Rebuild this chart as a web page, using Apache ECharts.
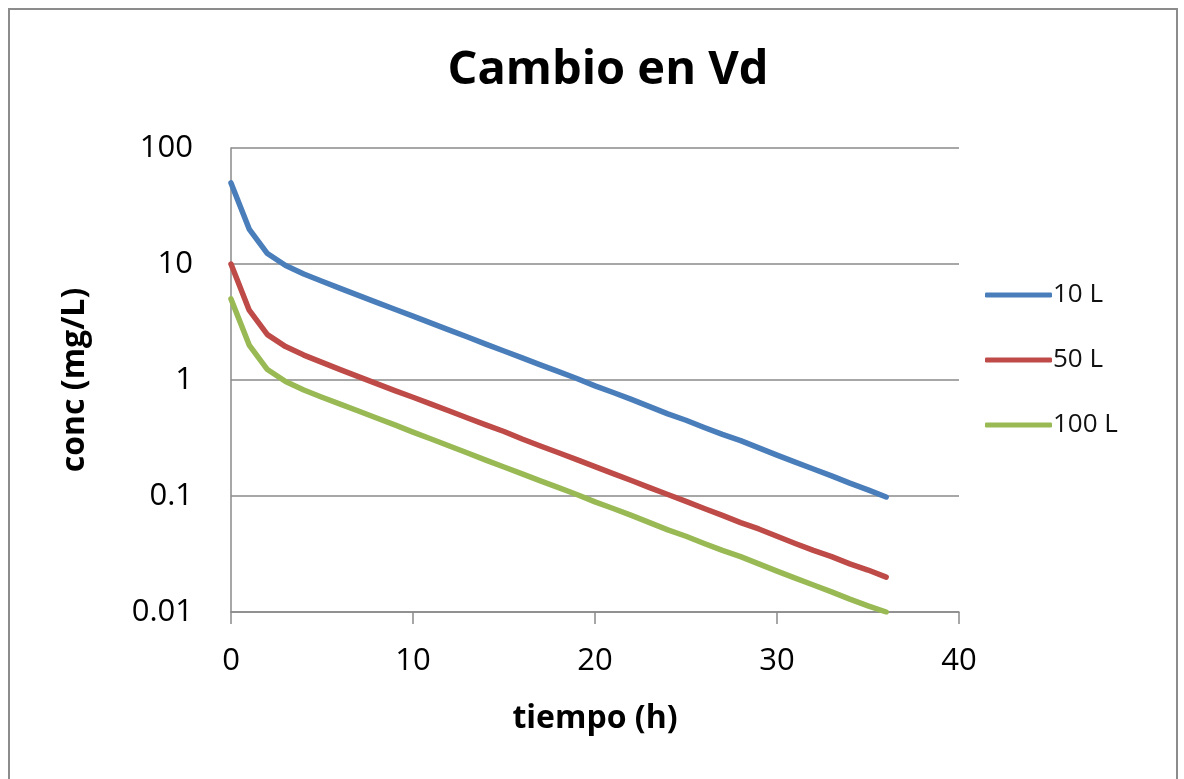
<!DOCTYPE html>
<html>
<head>
<meta charset="utf-8">
<script src="https://cdn.jsdelivr.net/npm/echarts@6/dist/echarts.min.js"></script>
<style>
  html, body { margin: 0; padding: 0; background: #fff; }
  #chart { width: 1184px; height: 779px; }
  #frame {
    position: absolute; left: 8px; top: 8px; width: 1166px; height: 820px;
    border: 2px solid #8c8c8c; pointer-events: none;
  }
</style>
</head>
<body>
<div id="chart"></div>
<div id="frame"></div>
<script>
// Time after dose, hours
const tiempo = [0,1,2,3,4,5,6,7,8,9,10,11,12,13,14,15,16,17,18,19,20,21,22,23,24,25,26,27,28,29,30,31,32,33,34,35,36];

// Plasma concentration (mg/L) for each volume of distribution
const conc10L = [50, 20, 12.3, 9.7, 8.2, 7.1, 6.16, 5.37, 4.67, 4.07, 3.55, 3.09, 2.69, 2.35, 2.04, 1.78, 1.55, 1.35, 1.18, 1.03, 0.89, 0.78, 0.68, 0.59, 0.51, 0.45, 0.39, 0.34, 0.30, 0.26, 0.225, 0.196, 0.171, 0.149, 0.129, 0.113, 0.098];
const conc50L = [10, 4, 2.46, 1.94, 1.64, 1.42, 1.23, 1.07, 0.93, 0.81, 0.71, 0.62, 0.54, 0.47, 0.41, 0.36, 0.31, 0.27, 0.236, 0.206, 0.179, 0.156, 0.136, 0.118, 0.103, 0.090, 0.078, 0.068, 0.059, 0.052, 0.045, 0.039, 0.034, 0.030, 0.026, 0.023, 0.020];
const conc100L = [5, 2, 1.23, 0.97, 0.82, 0.71, 0.62, 0.54, 0.47, 0.41, 0.355, 0.31, 0.27, 0.235, 0.204, 0.178, 0.155, 0.135, 0.118, 0.103, 0.089, 0.078, 0.068, 0.059, 0.051, 0.045, 0.039, 0.034, 0.030, 0.026, 0.0225, 0.0196, 0.0171, 0.0149, 0.0129, 0.0113, 0.0100];

const seriesNames = ['10 L', '50 L', '100 L'];
const seriesColors = ['#4a7ebb', '#be4b48', '#98b954'];
const seriesValues = [conc10L, conc50L, conc100L];

const FONT = '"Open Sans", "Noto Sans", sans-serif';
const GRAY = '#8a8a8a';

const chart = echarts.init(document.getElementById('chart'), null, { renderer: 'canvas' });

chart.setOption({
  animation: false,
  backgroundColor: '#fff',
  title: {
    text: 'Cambio en Vd',
    left: 603,
    textAlign: 'center',
    top: 37,
    textStyle: { fontFamily: FONT, fontSize: 47, fontWeight: 'bold', color: '#000', lineHeight: 58 }
  },
  grid: { left: 231, right: 225, top: 148, bottom: 167, containLabel: false },
  legend: {
    orient: 'vertical',
    left: 980,
    top: 277,
    itemWidth: 67,
    itemHeight: 5,
    itemGap: 39,
    icon: 'roundRect',
    data: seriesNames,
    textStyle: { fontFamily: FONT, fontSize: 26, lineHeight: 26, color: '#111', padding: [0, 0, 0, -4] }
  },
  xAxis: {
    type: 'value',
    min: 0, max: 40, interval: 10,
    name: 'tiempo (h)',
    nameLocation: 'middle',
    nameGap: 91,
    nameTextStyle: { fontFamily: FONT, fontSize: 32, fontWeight: 'bold', color: '#000' },
    axisLine: { show: true, lineStyle: { color: GRAY, width: 1.5 } },
    axisTick: { show: true, inside: false, length: 12, lineStyle: { color: GRAY, width: 1.5 } },
    axisLabel: { fontFamily: FONT, fontSize: 31, color: '#000', margin: 34 },
    splitLine: { show: false }
  },
  yAxis: {
    type: 'log',
    logBase: 10,
    min: 0.01, max: 100,
    name: 'conc (mg/L)',
    nameLocation: 'middle',
    nameGap: 140,
    nameTextStyle: { fontFamily: FONT, fontSize: 32, fontWeight: 'bold', color: '#000' },
    axisLine: { show: true, lineStyle: { color: GRAY, width: 1.5 } },
    axisTick: { show: false },
    axisLabel: {
      fontFamily: FONT, fontSize: 31, color: '#000', margin: 38,
      formatter: v => String(+Number(v).toPrecision(6))
    },
    splitLine: { show: true, lineStyle: { color: GRAY, width: 1.5 } }
  },
  series: seriesNames.map((name, i) => ({
    name,
    type: 'line',
    symbol: 'none',
    smooth: false,
    itemStyle: { color: seriesColors[i] },
    lineStyle: { width: 5.5, color: seriesColors[i], cap: 'round', join: 'round' },
    data: tiempo.map((t, j) => [t, seriesValues[i][j]])
  }))
});
</script>
</body>
</html>
